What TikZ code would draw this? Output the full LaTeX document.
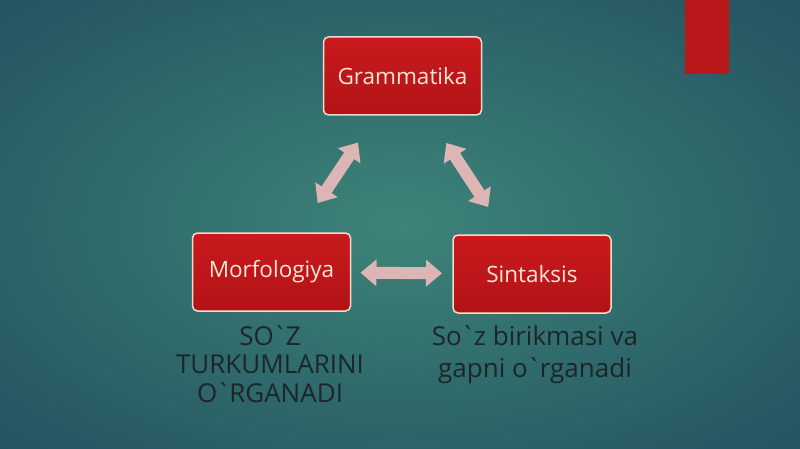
\documentclass[tikz,border=0pt]{standalone}
\usepackage{fontspec}
\setmainfont{Open Sans}
\usetikzlibrary{arrows.meta}
\definecolor{bgin}{HTML}{3E8479}
\definecolor{bgmid}{HTML}{326F6E}
\definecolor{bgmidb}{HTML}{285A64}
\definecolor{bgout}{HTML}{214D5C}
\definecolor{bgfar}{HTML}{1C4454}
\definecolor{bgedge}{HTML}{183C4E}
\definecolor{boxtop}{HTML}{C91A1D}
\definecolor{boxbot}{HTML}{B21316}
\definecolor{boxline}{HTML}{F1DCCB}
\definecolor{boxtext}{HTML}{F8E6D6}
\definecolor{linkpink}{HTML}{DDB5B5}
\definecolor{notetext}{HTML}{1C2628}
\definecolor{tabred}{HTML}{B8181A}
\pgfdeclareradialshading{slidebg}{\pgfpoint{0bp}{0bp}}{color(0bp)=(bgin); color(15bp)=(bgmid); color(30bp)=(bgmidb); color(42bp)=(bgout); color(55bp)=(bgfar); color(72bp)=(bgedge)}
\newcommand{\okmark}{\kern-1.5pt\textasciigrave\kern-1.5pt}

\begin{document}
\begin{tikzpicture}[x=1pt,y=-1pt]
\tikzset{box/.style = {shape=rectangle,rounded corners=5pt,draw=boxline,line width=1.5pt,top color=boxtop,bottom color=boxbot,minimum width=158pt,minimum height=78pt,text=boxtext,font=\fontsize{22.5}{26}\selectfont}}
\tikzset{link/.style = {line width=12pt,draw=linkpink,{Triangle[length=16pt,width=26pt]}-{Triangle[length=16pt,width=26pt]}}}
\tikzset{note/.style = {align=center,text=notetext,inner sep=0pt}}
% background
\useasboundingbox (0,0) rectangle (800,449);
\shade[shading=slidebg] (0,0) rectangle (800,449);
\fill[tabred] (685,0) rectangle (729,74);
% vertices
\node[box] (gram) at (402.5,76) {Grammatika};
\node[box] (morf) at (271.5,272) {Morfologiya};
\node[box] (sint) at (532,274) {Sintaksis};
% notes
\node[note,anchor=base,font=\fontsize{26}{28.5}\selectfont] (morfnote) at (270,402)
{SO\okmark Z\\TURKUMLARINI\\O\okmark RGANADI};
\node[note,anchor=base,font=\fontsize{26}{32}\selectfont] (sintnote) at (535,377)
{So\okmark z birikmasi va\\gapni o\okmark rganadi};
%edges
\path (morf.center) edge[link,shorten <=83pt,shorten >=80pt] (gram.center);
\path (gram.center) edge[link,shorten <=80pt,shorten >=80pt] (sint.center);
\path (morf.center) edge[link,shorten <=89pt,shorten >=90pt] (sint.center);

\end{tikzpicture}
\end{document}
